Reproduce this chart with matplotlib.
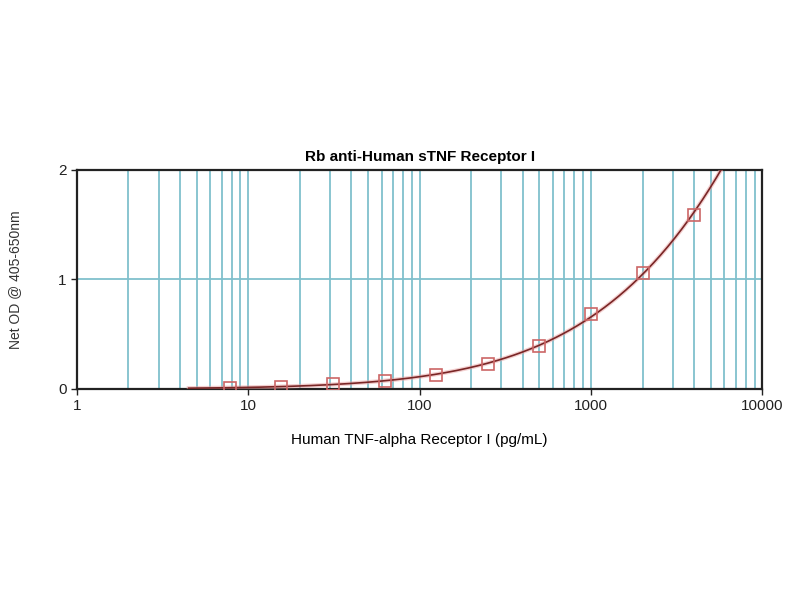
import matplotlib
matplotlib.use("Agg")
import matplotlib.pyplot as plt
import numpy as np
from matplotlib.ticker import LogLocator, FixedLocator, NullFormatter

plt.rcParams['font.family'] = ['Liberation Sans', 'DejaVu Sans']

# standard concentrations (pg/mL) and measured OD
conc = [7.8, 15.6, 31.25, 62.5, 125, 250, 500, 1000, 2000, 4000]
od = [0.01, 0.02, 0.04, 0.075, 0.13, 0.23, 0.39, 0.68, 1.06, 1.59]

title = "Rb anti-Human sTNF Receptor I"
xlabel = "Human TNF-alpha Receptor I (pg/mL)"
ylabel = "Net OD @ 405-650nm"
xticks = [1, 10, 100, 1000, 10000]
xticklabels = ["1", "10", "100", "1000", "10000"]
yticks = [0, 1, 2]

grid_col = "#80c0cd"

fig = plt.figure(figsize=(8, 6), dpi=100)
ax = fig.add_axes([0.096, 0.352, 0.857, 0.365])

# fitted standard curve (cubic in log-log space)
lx = np.log10(conc)
ly = np.log10(od)
coef = np.polyfit(lx, ly, 3)
xs = np.logspace(np.log10(4.5), np.log10(8000), 400)
ys = 10 ** np.polyval(coef, np.log10(xs))
ax.plot(xs, ys, color="#e8a0a0", lw=3.0, alpha=0.5, zorder=3)
ax.plot(xs, ys, color="#7a2626", lw=1.2, zorder=3)
ax.plot(conc, od, ls="none", marker="s", ms=9, mfc="none", mec="#cc6666",
        mew=1.2, zorder=4)

ax.set_xscale("log")
ax.set_xlim(1, 10000)
ax.set_ylim(0, 2)

ax.xaxis.set_major_locator(FixedLocator(xticks))
ax.set_xticklabels(xticklabels)
ax.xaxis.set_minor_locator(LogLocator(base=10, subs=np.arange(2, 10)))
ax.xaxis.set_minor_formatter(NullFormatter())
ax.set_yticks(yticks)
ax.set_yticklabels([str(v) for v in yticks])

ax.grid(True, which="both", axis="x", color=grid_col, lw=1.3)
ax.grid(True, which="major", axis="y", color=grid_col, lw=1.3)
ax.set_axisbelow(True)

ax.tick_params(axis="both", which="major", direction="out", length=4,
               width=1, labelsize=11, colors="#222222")
ax.tick_params(axis="x", which="minor", length=0)
for s in ax.spines.values():
    s.set_linewidth(1.6)
    s.set_color("#222222")

ax.set_title(title, fontsize=11, fontweight="bold", pad=6)
ax.set_xlabel(xlabel, fontsize=11, labelpad=14)
ax.set_ylabel(ylabel, fontsize=10, labelpad=26, color="#333333")

fig.savefig("out.png", dpi=100)
